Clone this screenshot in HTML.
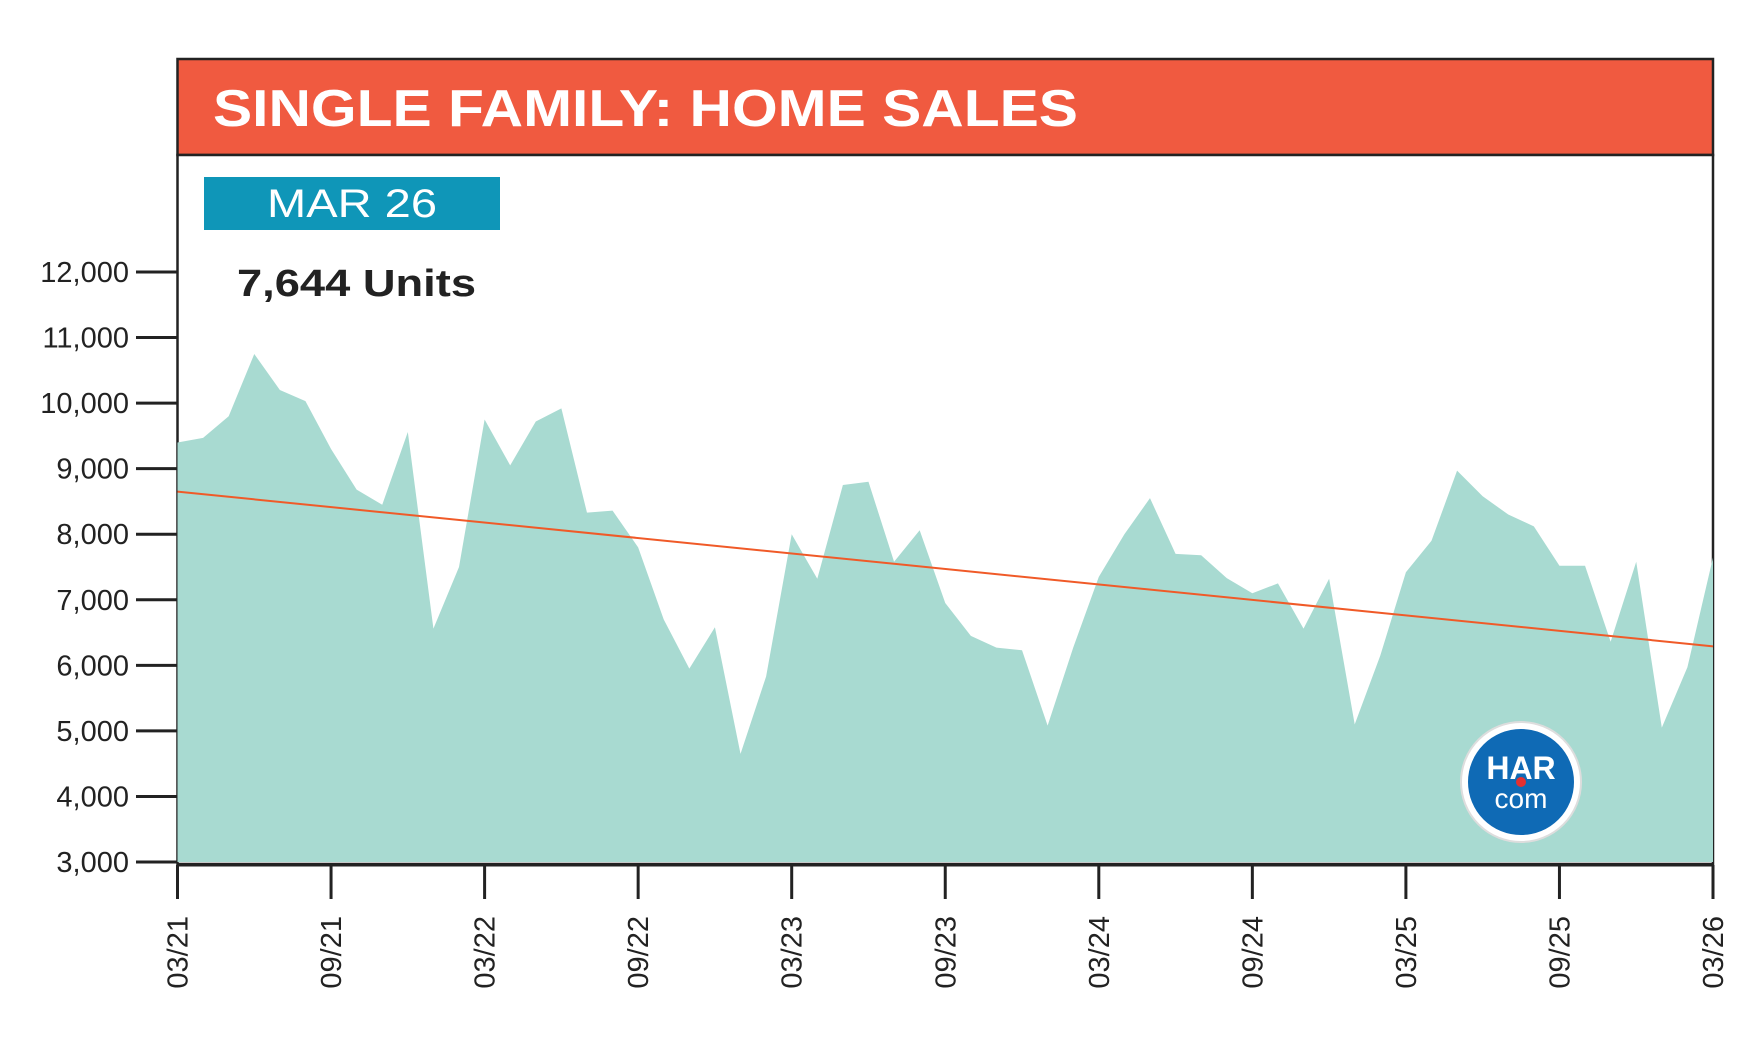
<!DOCTYPE html>
<html><head><meta charset="utf-8"><style>html,body{margin:0;padding:0;background:#fff}svg{display:block}</style></head>
<body>
<svg id="chart" width="1763" height="1058" viewBox="0 0 1763 1058" xmlns="http://www.w3.org/2000/svg" font-family="Liberation Sans, sans-serif">
<rect x="177.5" y="59" width="1535.5" height="96" fill="#f05a40" stroke="#222" stroke-width="2.5"/>
<text x="213" y="126" font-size="52" font-weight="bold" fill="#fff" textLength="865" lengthAdjust="spacingAndGlyphs">SINGLE FAMILY: HOME SALES</text>
<rect x="177.5" y="155" width="1535.5" height="709" fill="#fff" stroke="#222" stroke-width="2.5"/>
<g id="marks"></g>
<rect x="204" y="177" width="296" height="53" fill="#0f96b8"/>
<text x="352" y="217" font-size="40" fill="#fff" text-anchor="middle" textLength="170" lengthAdjust="spacingAndGlyphs">MAR 26</text>
<text x="237" y="296" font-size="38" font-weight="bold" fill="#222" textLength="239" lengthAdjust="spacingAndGlyphs">7,644 Units</text>
<g id="axes"></g>
<g>
<circle cx="1521" cy="782" r="60" fill="#fff" stroke="#ddd" stroke-width="2"/>
<circle cx="1521" cy="782" r="53" fill="#0f6ab5"/>
<text x="1521" y="779" font-size="32" font-weight="bold" fill="#fff" text-anchor="middle">HAR</text>
<circle cx="1521" cy="782" r="5" fill="#e53030"/>
<text x="1521" y="808" font-size="28" fill="#fff" text-anchor="middle">com</text>
</g>
</svg>
<script>
const months=["03/21","04/21","05/21","06/21","07/21","08/21","09/21","10/21","11/21","12/21","01/22","02/22","03/22","04/22","05/22","06/22","07/22","08/22","09/22","10/22","11/22","12/22","01/23","02/23","03/23","04/23","05/23","06/23","07/23","08/23","09/23","10/23","11/23","12/23","01/24","02/24","03/24","04/24","05/24","06/24","07/24","08/24","09/24","10/24","11/24","12/24","01/25","02/25","03/25","04/25","05/25","06/25","07/25","08/25","09/25","10/25","11/25","12/25","01/26","02/26","03/26"];
const sales=[9400,9470,9800,10750,10200,10030,9300,8680,8450,9560,6560,7500,9750,9050,9720,9920,8330,8360,7800,6700,5950,6580,4650,5830,8000,7320,8750,8800,7580,8060,6950,6450,6270,6230,5080,6270,7350,8000,8550,7700,7680,7330,7100,7250,6560,7320,5100,6150,7420,7900,8970,8580,8300,8120,7520,7520,6360,7580,5050,5970,7644];
const trendStart=8650, trendEnd=6290;
const yTicks=[3000,4000,5000,6000,7000,8000,9000,10000,11000,12000];
const xTickLabels=["03/21","09/21","03/22","09/22","03/23","09/23","03/24","09/24","03/25","09/25","03/26"];
const NS="http://www.w3.org/2000/svg";
const x0=177.5,x1=1713,yBase=862;
const xs=i=>x0+(x1-x0)*i/(months.length-1);
const ys=v=>862-(v-3000)*(862-272)/9000;
function mk(t,a,p){const e=document.createElementNS(NS,t);for(const k in a)e.setAttribute(k,a[k]);p.appendChild(e);return e;}
const marks=document.getElementById('marks');
let d=`M${xs(0)},${yBase}`;
sales.forEach((v,i)=>{d+=` L${xs(i)},${ys(v)}`;});
d+=` L${xs(sales.length-1)},${yBase} Z`;
const area=mk('path',{d:d,fill:'#a8dad1'},marks);


const tr=mk('line',{x1:xs(0),y1:ys(trendStart),x2:xs(sales.length-1),y2:ys(trendEnd),stroke:'#f05a28','stroke-width':2},marks);


const axes=document.getElementById('axes');
const ax=mk('line',{x1:x0,y1:865,x2:x1,y2:865,stroke:'#222','stroke-width':3},axes);


yTicks.forEach(v=>{
  const y=ys(v);
  const l=mk('line',{x1:136,y1:y,x2:177,y2:y,stroke:'#222','stroke-width':3},axes);
  
  
  const t=mk('text',{x:129,y:y+10,'font-size':29,fill:'#222','text-anchor':'end'},axes);
  t.textContent=v.toLocaleString('en-US');
  
  
});
xTickLabels.forEach(lab=>{
  const i=months.indexOf(lab);const x=xs(i);
  const l=mk('line',{x1:x,y1:865,x2:x,y2:899,stroke:'#222','stroke-width':3},axes);
  
  
  const t=mk('text',{x:0,y:0,'font-size':29,fill:'#222','text-anchor':'end',transform:`translate(${x+10},916) rotate(-90)`},axes);
  t.textContent=lab;
  
  
});
</script>
</body></html>
